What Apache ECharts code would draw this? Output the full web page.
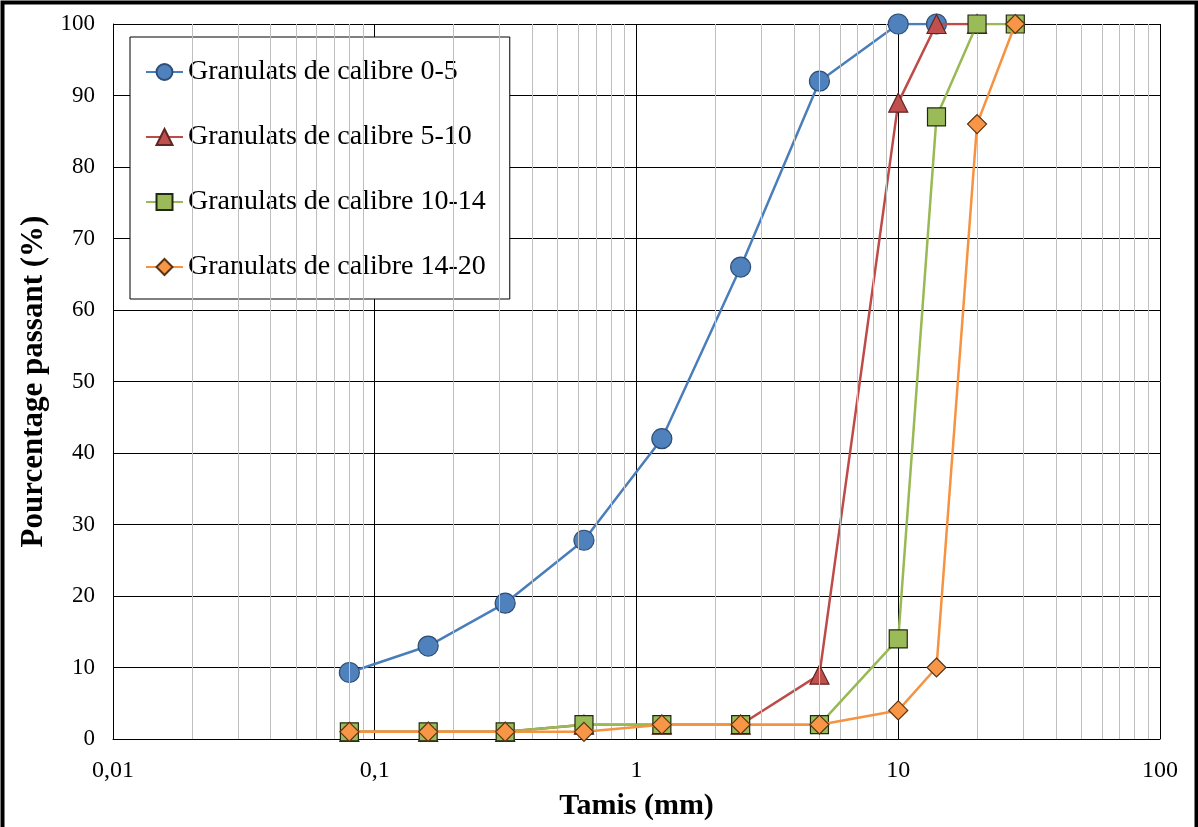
<!DOCTYPE html>
<html>
<head>
<meta charset="utf-8">
<script src="https://cdn.jsdelivr.net/npm/echarts@6/dist/echarts.min.js"></script>
<style>
  html, body { margin: 0; padding: 0; background: #fff; }
  #chart { width: 1198px; height: 827px; }
</style>
</head>
<body>
<div id="chart"></div>
<script>
// Sieve openings (mm) and cumulative passing (%) for each aggregate grade
const sieves = [0.08, 0.16, 0.315, 0.63, 1.25, 2.5, 5, 10, 14, 20, 28];
const seriesNames = [
  'Granulats de calibre 0-5',
  'Granulats de calibre 5-10',
  'Granulats de calibre 10-14',
  'Granulats de calibre 14-20'
];
const pass0_5   = [9.3, 13, 19, 27.8, 42, 66, 92, 100, 100, null, null];
const pass5_10  = [1, 1, 1, 2, 2, 2, 9, 89, 100, 100, null];
const pass10_14 = [1, 1, 1, 2, 2, 2, 2, 14, 87, 100, 100];
const pass14_20 = [1, 1, 1, 1, 2, 2, 2, 4, 10, 86, 100];
const xTickLabels = ['0,01', '0,1', '1', '10', '100'];
const minorMultipliers = [2, 3, 4, 5, 6, 7, 8, 9];
const decades = [0.01, 0.1, 1, 10];

function pairs(values) {
  const out = [];
  sieves.forEach((s, i) => { if (values[i] != null) out.push([s, values[i]]); });
  return out;
}

// light grey gridlines at 2..9 of every decade of the log axis
const minorLines = [];
decades.forEach(d => minorMultipliers.forEach(m => minorLines.push({ xAxis: +(d * m).toPrecision(6) })));

const serif = 'Liberation Serif';
const styles = [
  { line: '#4a7ebb', fill: '#4f81bd', border: '#2c4d75', symbol: 'circle', size: 20 },
  { line: '#be4b48', fill: '#c0504d', border: '#632523', symbol: 'triangle', size: 19 },
  { line: '#98b954', fill: '#9bbb59', border: '#1f2a10', symbol: 'rect', size: 18 },
  { line: '#f69240', fill: '#f79646', border: '#5a3210', symbol: 'diamond', size: 19 }
];
const datasets = [pass0_5, pass5_10, pass10_14, pass14_20];

const series = [{
  name: 'minor',
  type: 'line',
  data: [],
  silent: true,
  z: 1,
  markLine: {
    silent: true,
    symbol: ['none', 'none'],
    label: { show: false },
    lineStyle: { color: '#bfbfbf', width: 1, type: 'solid' },
    emphasis: { disabled: true },
    animation: false,
    data: minorLines
  }
}];
datasets.forEach((vals, k) => {
  const st = styles[k];
  series.push({
    name: seriesNames[k],
    type: 'line',
    data: pairs(vals),
    symbol: st.symbol,
    symbolSize: st.size,
    z: 3 + k,
    lineStyle: { color: st.line, width: 2.5 },
    itemStyle: { color: st.fill, borderColor: st.border, borderWidth: 1.2 },
    animation: false
  });
});

const chart = echarts.init(document.getElementById('chart'), null, { renderer: 'canvas' });
chart.setOption({
  backgroundColor: '#fff',
  animation: false,
  grid: { left: 113, right: 38, top: 24, bottom: 88, containLabel: false, outerBoundsMode: 'none' },
  legend: {
    data: seriesNames,
    orient: 'vertical',
    left: 130,
    top: 37,
    padding: [21, 24, 18, 15],
    itemGap: 37,
    itemWidth: 37,
    itemHeight: 20,
    backgroundColor: '#fff',
    borderColor: '#000',
    borderWidth: 1,
    textStyle: { fontFamily: serif, fontSize: 28, color: '#000', lineHeight: 27 }
  },
  xAxis: {
    type: 'log',
    logBase: 10,
    min: 0.01,
    max: 100,
    name: 'Tamis (mm)',
    nameLocation: 'middle',
    nameGap: 52,
    nameTextStyle: { fontFamily: serif, fontSize: 30, fontWeight: 'bold', color: '#000' },
    axisLine: { show: true, lineStyle: { color: '#000', width: 1 } },
    axisTick: { show: false },
    axisLabel: {
      fontFamily: serif, fontSize: 24, color: '#000', margin: 20,
      formatter: (v, i) => xTickLabels[i] !== undefined ? xTickLabels[i] : String(v)
    },
    splitLine: { show: true, lineStyle: { color: '#000', width: 1 } }
  },
  yAxis: {
    type: 'value',
    min: 0,
    max: 100,
    interval: 10,
    name: 'Pourcentage passant (%)',
    nameLocation: 'middle',
    nameGap: 63,
    nameTextStyle: { fontFamily: serif, fontSize: 31, fontWeight: 'bold', color: '#000' },
    axisLine: { show: true, lineStyle: { color: '#000', width: 1 } },
    axisTick: { show: false },
    axisLabel: { fontFamily: serif, fontSize: 23, color: '#000', margin: 18 },
    splitLine: { show: true, lineStyle: { color: '#000', width: 1 } }
  },
  graphic: [{
    type: 'rect',
    left: 0, top: 0,
    shape: { x: 2, y: 2, width: 1194, height: 840 },
    style: { fill: 'none', stroke: '#000', lineWidth: 4 },
    silent: true,
    z: 100
  }],
  series: series
});
</script>
</body>
</html>
